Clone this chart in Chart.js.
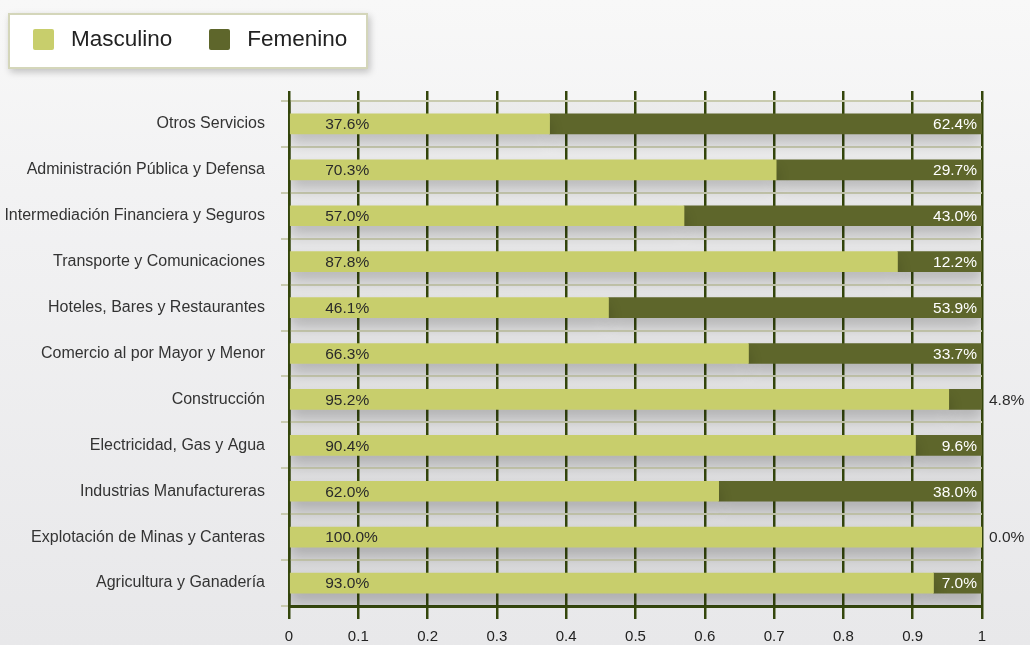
<!DOCTYPE html>
<html>
<head>
<meta charset="utf-8">
<script src="https://cdn.jsdelivr.net/npm/chart.js@4"></script>
<style>
  html, body { margin: 0; padding: 0; }
  body {
    width: 1030px; height: 645px; overflow: hidden; position: relative;
    background: linear-gradient(to bottom, #f8f8f8 0%, #f2f2f3 30%, #e8e8ea 100%);
  }
  #chart { position: absolute; left: 0; top: 0; }
  #legend {
    position: absolute; left: 8px; top: 13px; width: 333px; height: 52px;
    background: #fff; border: 2px solid #d4d6ba;
    box-shadow: 2px 3px 7px rgba(0,0,0,0.22);
    display: flex; align-items: center; padding-left: 23px; box-sizing: content-box;
    font-family: "Liberation Sans", Arial, sans-serif; font-size: 22.5px; color: #222;
  }
  #legend .sw { width: 21px; height: 21px; border-radius: 2px; margin-right: 17px; margin-top: -4px; }
  #legend .item { display: flex; align-items: center; margin-right: 37px; }
  #legend .txt { margin-top: -4px; }
</style>
</head>
<body>
<canvas id="chart" width="1030" height="645"></canvas>
<div id="legend"></div>
<script>
// chart data
const categories = [
  'Otros Servicios',
  'Administración Pública y Defensa',
  'Intermediación Financiera y Seguros',
  'Transporte y Comunicaciones',
  'Hoteles, Bares y Restaurantes',
  'Comercio al por Mayor y Menor',
  'Construcción',
  'Electricidad, Gas y Agua',
  'Industrias Manufactureras',
  'Explotación de Minas y Canteras',
  'Agricultura y Ganadería'
];
const masculino = [0.376, 0.703, 0.570, 0.878, 0.461, 0.663, 0.952, 0.904, 0.620, 1.000, 0.930];
const femenino  = [0.624, 0.297, 0.430, 0.122, 0.539, 0.337, 0.048, 0.096, 0.380, 0.000, 0.070];
const seriesNames = ['Masculino', 'Femenino'];
const xTickLabels = ['0', '0.1', '0.2', '0.3', '0.4', '0.5', '0.6', '0.7', '0.8', '0.9', '1'];

const colLight = '#c8ce6c';
const colDark = '#5e662b';
const gridDark = '#34460c';
const fam = '"Liberation Sans", Arial, sans-serif';

// html legend
const legendEl = document.getElementById('legend');
[colLight, colDark].forEach((c, i) => {
  const item = document.createElement('div');
  item.className = 'item';
  item.innerHTML = '<div class="sw" style="background:' + c + '"></div><span class="txt">' + seriesNames[i] + '</span>';
  legendEl.appendChild(item);
});

function pct(v) {
  return (v * 100).toFixed(1) + '%';
}

// gray plot background
const plotBg = {
  id: 'plotBg',
  beforeDraw(chart) {
    const { ctx, chartArea: a } = chart;
    const g = ctx.createLinearGradient(0, a.top, 0, a.bottom);
    g.addColorStop(0, 'rgba(0,0,0,0.035)');
    g.addColorStop(1, 'rgba(0,0,0,0.08)');
    ctx.save();
    ctx.fillStyle = g;
    ctx.fillRect(a.left, a.top, a.right - a.left, a.bottom - a.top);
    ctx.restore();
  }
};

// soft shadow under bars
const barShadow = {
  id: 'barShadow',
  beforeDatasetsDraw(chart) {
    const ctx = chart.ctx;
    ctx.save();
    ctx.shadowColor = 'rgba(0,0,0,0.2)';
    ctx.shadowBlur = 14;
    ctx.shadowOffsetY = 9;
  },
  afterDatasetsDraw(chart) {
    chart.ctx.restore();
  }
};

// value labels
const valueLabels = {
  id: 'valueLabels',
  afterDatasetsDraw(chart) {
    const ctx = chart.ctx;
    ctx.save();
    ctx.font = '15.5px ' + fam;
    ctx.textBaseline = 'middle';
    chart.getDatasetMeta(0).data.forEach((bar, i) => {
      const p = bar.getProps(['x', 'y', 'base'], true);
      ctx.fillStyle = '#2a2a2a';
      ctx.textAlign = 'left';
      ctx.fillText(pct(masculino[i]), p.base + 35, p.y + 1);
    });
    chart.getDatasetMeta(1).data.forEach((bar, i) => {
      const p = bar.getProps(['x', 'y', 'base'], true);
      if (femenino[i] < 0.06) {
        ctx.fillStyle = '#2a2a2a';
        ctx.textAlign = 'left';
        ctx.fillText(pct(femenino[i]), p.x + 7, p.y + 1);
      } else {
        ctx.fillStyle = '#ffffff';
        ctx.textAlign = 'right';
        ctx.fillText(pct(femenino[i]), p.x - 5, p.y + 1);
      }
    });
    ctx.restore();
  }
};

new Chart(document.getElementById('chart').getContext('2d'), {
  type: 'bar',
  data: {
    labels: categories,
    datasets: [
      { label: seriesNames[0], data: masculino, backgroundColor: colLight, barThickness: 20 },
      { label: seriesNames[1], data: femenino, backgroundColor: colDark, barThickness: 20 }
    ]
  },
  options: {
    indexAxis: 'y',
    responsive: false,
    animation: false,
    layout: { padding: { left: 0, right: 48, top: 91, bottom: 0 } },
    plugins: {
      legend: { display: false },
      tooltip: { enabled: false }
    },
    scales: {
      x: {
        stacked: true,
        min: 0,
        max: 1,
        position: 'bottom',
        ticks: {
          stepSize: 0.1,
          callback: (v, i) => xTickLabels[i],
          color: '#222',
          font: { family: fam, size: 15 },
          padding: 9,
          maxRotation: 0
        },
        grid: { color: gridDark, lineWidth: 2.5, tickLength: 13 },
        border: { display: true, color: gridDark, width: 3 },
        afterFit: s => { s.height = 39; }
      },
      xTop: {
        type: 'linear',
        position: 'top',
        min: 0,
        max: 1,
        ticks: { display: false, stepSize: 0.1 },
        grid: { drawOnChartArea: false, tickLength: 10, color: gridDark, lineWidth: 2.5 },
        border: { display: false }
      },
      y: {
        stacked: true,
        ticks: { color: '#333', font: { family: fam, size: 16 }, padding: 16 },
        grid: { color: '#c9cbb0', lineWidth: 2, tickLength: 8, offset: true },
        border: { color: gridDark, width: 2.5 },
        afterFit: s => { s.width = 289; }
      }
    }
  },
  plugins: [plotBg, barShadow, valueLabels]
});
</script>
</body>
</html>
